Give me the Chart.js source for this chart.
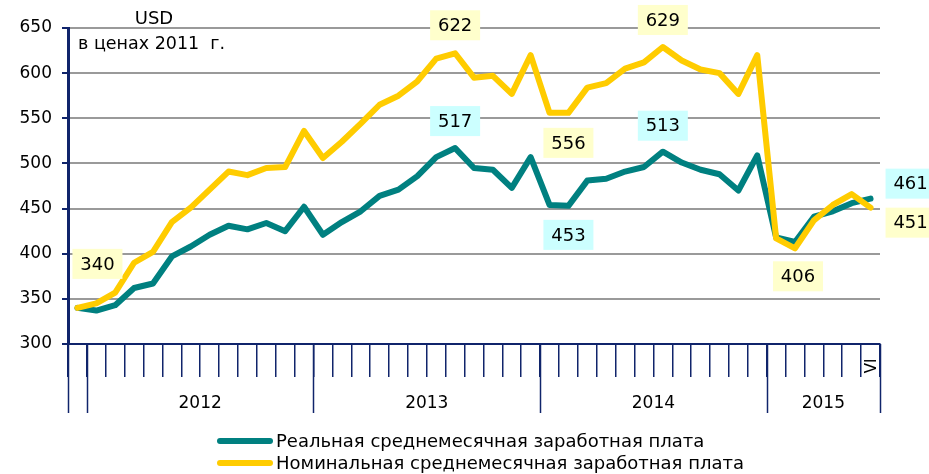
<!DOCTYPE html>
<html>
<head>
<meta charset="utf-8">
<script src="https://cdn.jsdelivr.net/npm/chart.js@4.4.1/dist/chart.umd.min.js"></script>
<style>
html,body{margin:0;padding:0;background:#fff;}
#wrap{width:929px;height:474px;}
</style>
</head>
<body>
<div id="wrap"><canvas id="c" width="929" height="474"></canvas></div>
<script>
// ---- data ----
const monthNames = ['I','II','III','IV','V','VI','VII','VIII','IX','X','XI','XII'];
const periodYears = ['2011','2012','2013','2014','2015'];
const periodFirstMonth = [12, 1, 1, 1, 1];
const periodLastMonth = [12, 12, 12, 12, 6];
const yearLabels = ['2012','2013','2014','2015'];

const realWage = [340,337,343,362,367,397,408,421,431,427,434,425,
  452,421,435,447,464,471,486,507,517,495,493,473,
  507,454,453,481,483,491,496,513,501,493,488,470,
  509,418,413,441,447,456,461];
const nominalWage = [340,345,357,390,402,435,451,471,491,487,495,496,
  536,506,524,544,565,575,591,616,622,595,597,577,
  620,556,556,584,589,605,612,629,614,604,600,577,
  620,417,406,437,454,466,451];

const yTicks = {min:300, max:650, step:50};
const seriesNames = ['Реальная среднемесячная заработная плата','Номинальная среднемесячная заработная плата'];
const unitLabel = 'USD';
const unitNote = 'в ценах 2011  г.';

// labelled points: [series (0 real, 1 nominal), index]
const labelledPoints = [[1,0],[1,20],[0,20],[1,26],[0,26],[1,31],[0,31],[1,38],[0,42],[1,42]];

// categories
const categories = [];
const catYear = [];
periodYears.forEach((y,k)=>{
  for(let m=periodFirstMonth[k]; m<=periodLastMonth[k]; m++){
    categories.push(monthNames[m-1]+' '+y);
    catYear.push(y);
  }
});

// ---- styles ----
const NAVY = '#10246b';
const TEAL = '#008080';
const YELLOW = '#ffcc00';
const FONT = 'DejaVu Sans';
const labelBg = ['#ccffff','#ffffcc'];
// label offsets relative to point (dx, dy)
const labelOffsets = {
  '1,0':[20,-44], '1,20':[0,-28], '0,20':[0,-27], '1,26':[0,30], '0,26':[0,29],
  '1,31':[0,-27], '0,31':[0,-26], '1,38':[3,28], '0,42':[40,-15], '1,42':[40,15]
};

const decor = {
  id:'decor',
  afterDraw(chart){
    const ctx = chart.ctx;
    const xs = chart.scales.x, ys = chart.scales.y;
    const ca = chart.chartArea;
    const step = xs.getPixelForValue(1) - xs.getPixelForValue(0);
    const bnd = i => xs.getPixelForValue(i) - step/2;
    ctx.save();
    // year separators
    const bounds = [0];
    for(let i=1;i<catYear.length;i++) if(catYear[i]!==catYear[i-1]) bounds.push(i);
    bounds.push(catYear.length);
    ctx.strokeStyle = NAVY; ctx.lineWidth = 1.5;
    bounds.forEach(b=>{
      const x = Math.round(bnd(b))+0.5;
      ctx.beginPath(); ctx.moveTo(x, ca.bottom); ctx.lineTo(x, ca.bottom+69); ctx.stroke();
    });
    // year labels
    ctx.fillStyle = '#000';
    ctx.font = '17px "'+FONT+'"';
    ctx.textAlign = 'center'; ctx.textBaseline = 'middle';
    yearLabels.forEach(y=>{
      const s = catYear.indexOf(y), e = catYear.lastIndexOf(y)+1;
      ctx.fillText(y, (bnd(s)+bnd(e))/2, ca.bottom+60);
    });
    // last month label rotated
    const last = categories.length-1;
    ctx.save();
    ctx.translate(xs.getPixelForValue(last)+2, ca.bottom+22);
    ctx.rotate(-Math.PI/2);
    ctx.font = '15px "'+FONT+'"';
    ctx.fillText(categories[last].split(' ')[0], 0, 0);
    ctx.restore();
    // unit titles
    ctx.font = '18px "'+FONT+'"';
    ctx.textAlign = 'center';
    ctx.fillText(unitLabel, 154, 19);
    ctx.textAlign = 'left';
    ctx.font = '17.5px "'+FONT+'"';
    ctx.fillText(unitNote, 78, 44);
    // data labels
    ctx.font = '18px "'+FONT+'"';
    ctx.textAlign = 'center';
    labelledPoints.forEach(([s,i])=>{
      const v = (s===0?realWage:nominalWage)[i];
      const off = labelOffsets[s+','+i];
      const cx = xs.getPixelForValue(i)+off[0];
      const cy = ys.getPixelForValue(v)+off[1];
      ctx.fillStyle = labelBg[s];
      ctx.fillRect(cx-25, cy-15, 50, 30);
      ctx.fillStyle = '#000';
      ctx.fillText(String(v), cx, cy+1);
    });
    // legend
    const colors = [TEAL, YELLOW];
    const rowY = [441, 463];
    ctx.lineCap = 'round';
    ctx.lineWidth = 6;
    ctx.textAlign = 'left';
    ctx.font = '18px "'+FONT+'"';
    seriesNames.forEach((n,k)=>{
      ctx.strokeStyle = colors[k];
      ctx.beginPath(); ctx.moveTo(220, rowY[k]); ctx.lineTo(270, rowY[k]); ctx.stroke();
      ctx.fillStyle = '#000';
      ctx.fillText(n, 276, rowY[k]+1);
    });
    ctx.restore();
  }
};

new Chart(document.getElementById('c'), {
  type:'line',
  data:{
    labels: categories,
    datasets:[
      {label:seriesNames[1], data:nominalWage, borderColor:YELLOW, borderWidth:6, pointRadius:0, tension:0, order:0, borderJoinStyle:'round', borderCapStyle:'round'},
      {label:seriesNames[0], data:realWage, borderColor:TEAL, borderWidth:6, pointRadius:0, tension:0, order:1, borderJoinStyle:'round', borderCapStyle:'round'}
    ]
  },
  options:{
    responsive:false,
    devicePixelRatio:1,
    animation:false,
    events:[],
    layout:{padding:{left:0,right:49,top:28,bottom:60}},
    plugins:{legend:{display:false}, tooltip:{enabled:false}},
    scales:{
      x:{
        type:'category', offset:true,
        afterFit(s){ s.height = 70; },
        ticks:{display:false, autoSkip:false},
        grid:{offset:true, drawOnChartArea:false, drawTicks:true, tickLength:33, color:NAVY, lineWidth:1.5},
        border:{color:NAVY, width:2}
      },
      y:{
        min:yTicks.min, max:yTicks.max,
        afterFit(s){ s.width = 68; },
        ticks:{stepSize:yTicks.step, color:'#000', font:{family:FONT, size:17}, padding:10},
        grid:{color:'#9a9a9a', lineWidth:2, tickColor:NAVY, tickLength:6, tickWidth:2},
        border:{color:NAVY, width:3}
      }
    }
  },
  plugins:[decor]
});
</script>
</body>
</html>
